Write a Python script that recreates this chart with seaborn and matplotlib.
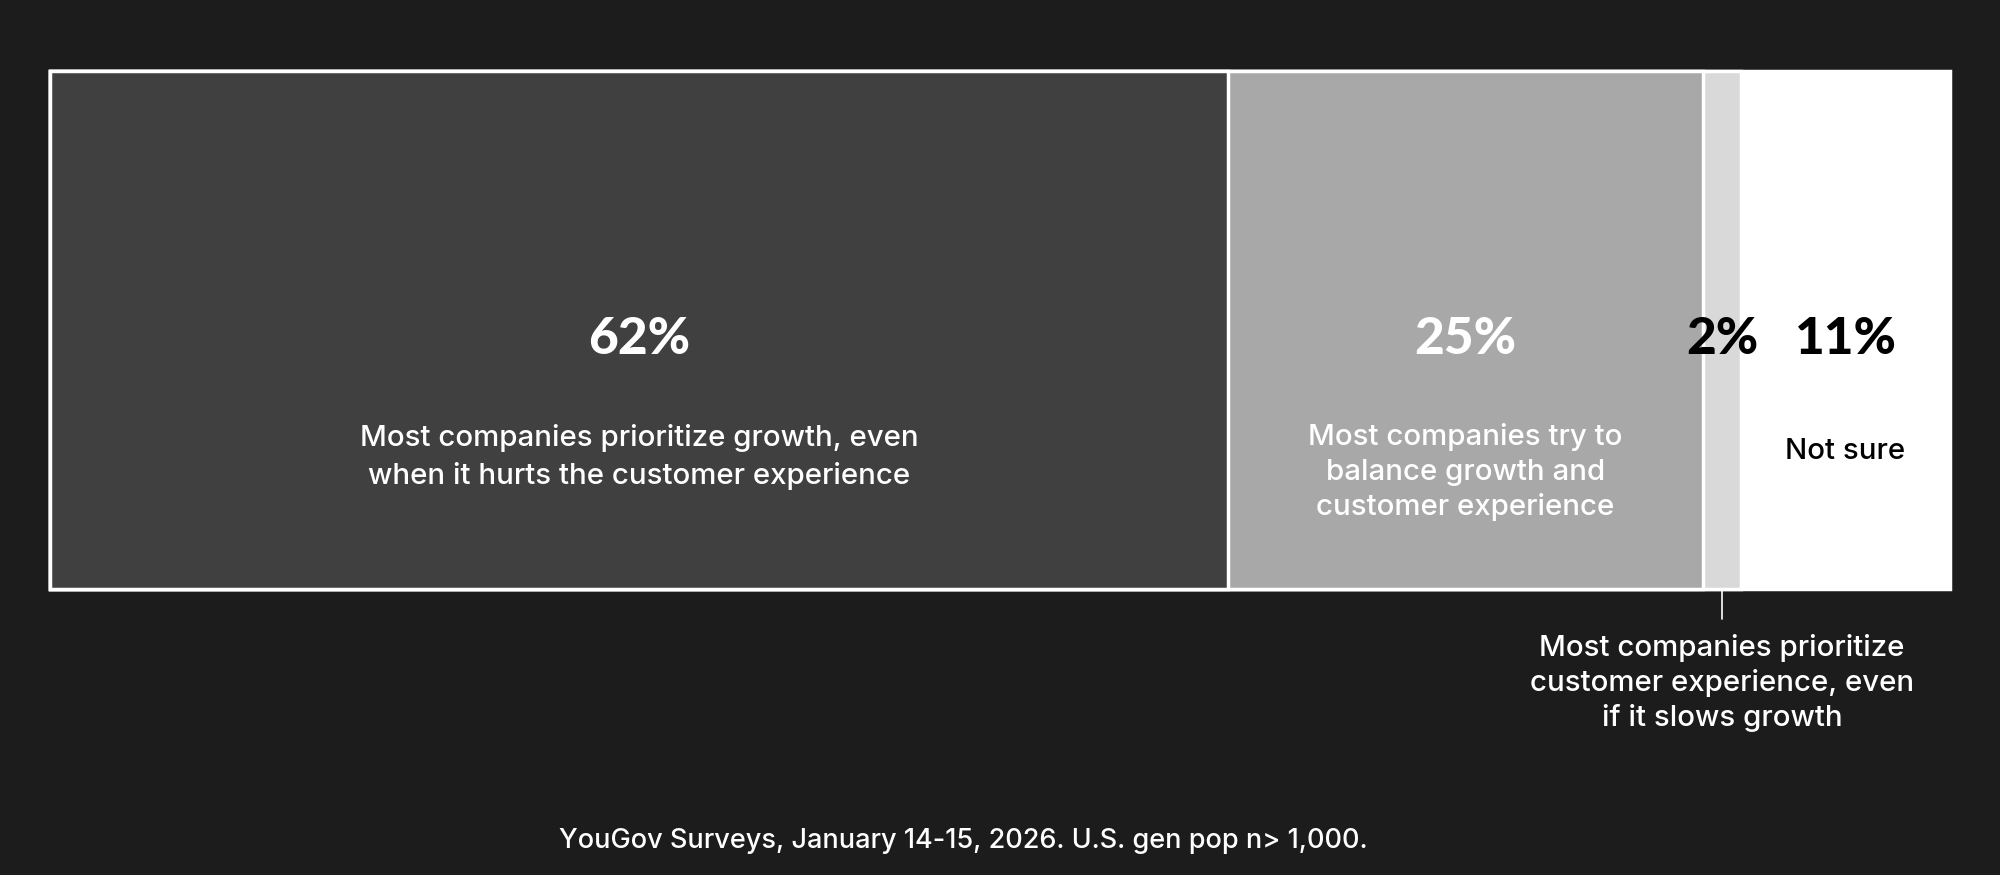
import matplotlib
matplotlib.use("Agg")
import matplotlib.pyplot as plt
import seaborn as sns
import numpy as np
import pandas as pd

# ---- data ----
categories = [
    "Most companies prioritize growth, even\nwhen it hurts the customer experience",
    "Most companies try to\nbalance growth and\ncustomer experience",
    "Most companies prioritize\ncustomer experience, even\nif it slows growth",
    "Not sure",
]
values = [62, 25, 2, 11]
pct_labels = ["62%", "25%", "2%", "11%"]
source_text = "YouGov Surveys, January 14-15, 2026. U.S. gen pop n> 1,000."

# ---- style ----
BG = "#1c1c1c"
seg_colors = ["#404040", "#a8a8a8", "#d9d9d9", "#ffffff"]
pct_colors = ["white", "white", "black", "black"]
label_colors = ["white", "white", "white", "black"]

sns.set_theme(style="white")
plt.rcParams["font.family"] = ["Inter", "DejaVu Sans"]

fig = plt.figure(figsize=(20, 8.75), dpi=100, facecolor=BG)
ax = fig.add_axes([0.025, 0.327, 0.95, 0.592])
ax.set_facecolor(BG)

df = pd.DataFrame({"category": categories, "value": values})
df["end"] = df["value"].cumsum()
df["start"] = df["end"] - df["value"]
df["mid"] = (df["start"] + df["end"]) / 2

# stacked bar: draw cumulative ends from largest to smallest
for i in reversed(range(len(df))):
    sns.barplot(x=[df["end"].iloc[i]], y=["all"], orient="h", color=seg_colors[i],
                width=1.0, edgecolor="white", linewidth=2.5, saturation=1, ax=ax)

ax.set_xlim(0, 100)
ax.set_ylim(0.5, -0.5)
for p in ax.patches:
    p.set_clip_on(False)
ax.axis("off")

pct_font = dict(family=["Lato", "DejaVu Sans"], weight="black", fontsize=37)
lab_font = dict(fontsize=21.2, weight="medium")

# percentages
for i in range(len(df)):
    ax.text(df["mid"].iloc[i], 0.018, pct_labels[i], ha="center", va="center",
            color=pct_colors[i], **pct_font)

# in-bar labels
ax.text(df["mid"].iloc[0], 0.245, categories[0], ha="center", va="center",
        color=label_colors[0], linespacing=1.48, **lab_font)
ax.text(df["mid"].iloc[1], 0.275, categories[1], ha="center", va="center",
        color=label_colors[1], linespacing=1.35, **lab_font)
ax.text(df["mid"].iloc[3], 0.235, categories[3], ha="center", va="center",
        color=label_colors[3], **lab_font)

# callout for the small segment
ax.plot([df["mid"].iloc[2], df["mid"].iloc[2]], [0.5, 0.558], color="white",
        lw=1.2, clip_on=False)
ax.text(df["mid"].iloc[2], 0.682, categories[2], ha="center", va="center",
        color="white", linespacing=1.33, clip_on=False, **lab_font)

fig.text(0.4815, 0.039, source_text, ha="center", va="center", color="white",
         fontsize=19.5, weight="medium")

fig.savefig("out.png", dpi=100, facecolor=BG)
